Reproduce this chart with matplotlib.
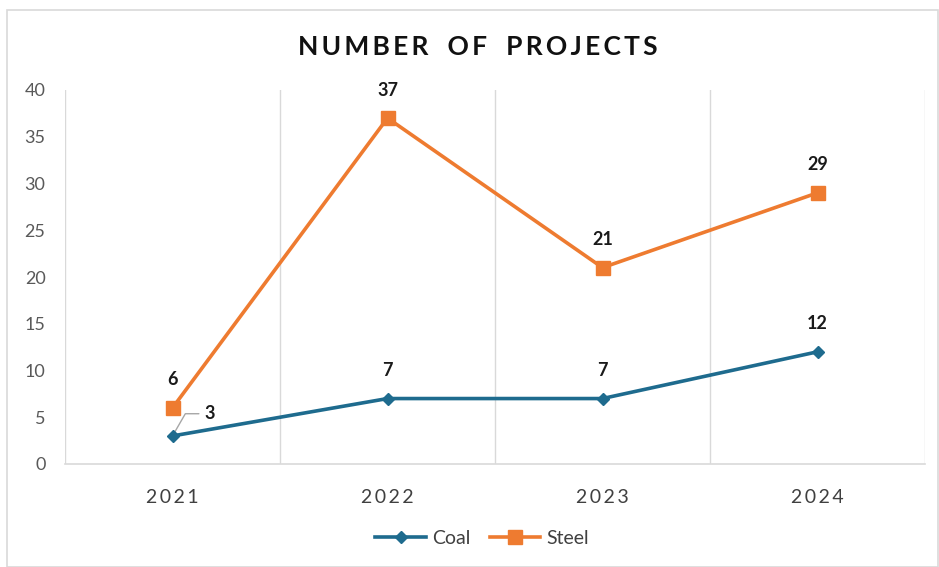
import matplotlib
matplotlib.use("Agg")
import matplotlib.pyplot as plt
from matplotlib.patches import Rectangle

years = ["2021", "2022", "2023", "2024"]
coal = [3, 7, 7, 12]
steel = [6, 37, 21, 29]
yticks = [0, 5, 10, 15, 20, 25, 30, 35, 40]

coal_color = "#1E6B8E"
steel_color = "#EE7B30"

plt.rcParams['font.family'] = ['Lato', 'DejaVu Sans']

fig = plt.figure(figsize=(9.39, 5.67), dpi=100)
ax = fig.add_axes([65/939, 1-464/567, (925-65)/939, (464-90)/567])

x = [i + 0.5 for i in range(len(years))]
ax.plot(x, steel, color=steel_color, lw=2.6, marker="s", ms=10, zorder=3, label="Steel")
ax.plot(x, coal, color=coal_color, lw=2.6, marker="D", ms=6, zorder=4, label="Coal")

ax.set_xlim(0, len(years))
ax.set_ylim(0, 40)
ax.set_yticks(yticks)
ax.set_yticklabels([str(v) for v in yticks], fontsize=13, color="#595959")
ax.set_xticks(x)
ax.set_xticklabels(["\u2009".join(list(y)) for y in years], fontsize=14, color="#404040")
ax.tick_params(length=0, axis='y', pad=14)
ax.tick_params(length=0, axis='x', pad=18)

for b in range(len(years) + 1):
    ax.axvline(b, color="#D9D9D9", lw=1, zorder=1)
for s in ["top", "right", "left"]:
    ax.spines[s].set_visible(False)
ax.spines["bottom"].set_color("#D9D9D9")
ax.spines["bottom"].set_linewidth(1.2)

# data labels
for xi, v in zip(x, steel):
    ax.annotate(str(v), (xi, v), xytext=(0, 14), textcoords="offset points",
                ha="center", va="bottom", fontsize=13, fontweight="bold", color="#1a1a1a")
for i, (xi, v) in enumerate(zip(x, coal)):
    if i == 0:
        ax.annotate(str(v), (xi, v), xytext=(23, 16), textcoords="offset points",
                    ha="left", va="center", fontsize=13, fontweight="bold", color="#1a1a1a",
                    arrowprops=dict(arrowstyle="-", color="#A6A6A6", lw=1,
                                    connectionstyle="angle,angleA=0,angleB=60,rad=0",
                                    shrinkA=2, shrinkB=3))
    else:
        ax.annotate(str(v), (xi, v), xytext=(0, 14), textcoords="offset points",
                    ha="center", va="bottom", fontsize=13, fontweight="bold", color="#1a1a1a")

title = "NUMBER OF PROJECTS"
spaced = "\u2009".join(list(title)).replace("\u2009 \u2009", "   ")
fig.text(478/939, 1-47/567, spaced,
         ha="center", va="center", fontsize=19, fontweight="bold", color="#111111")

h, l = ax.get_legend_handles_labels()
fig.legend([h[1], h[0]], [l[1], l[0]], loc="center", bbox_to_anchor=(482/939, 1-538/567),
           ncol=2, frameon=False, fontsize=14, handlelength=2.6, columnspacing=1.0,
           handletextpad=0.3, labelcolor="#404040")

fig.patches.append(Rectangle((7/939, 0), 1 - 8/939, 1 - 10/567, transform=fig.transFigure,
                             fill=False, edgecolor="#D9D9D9", lw=1.2))

fig.savefig("out.png", dpi=100, facecolor="white")
